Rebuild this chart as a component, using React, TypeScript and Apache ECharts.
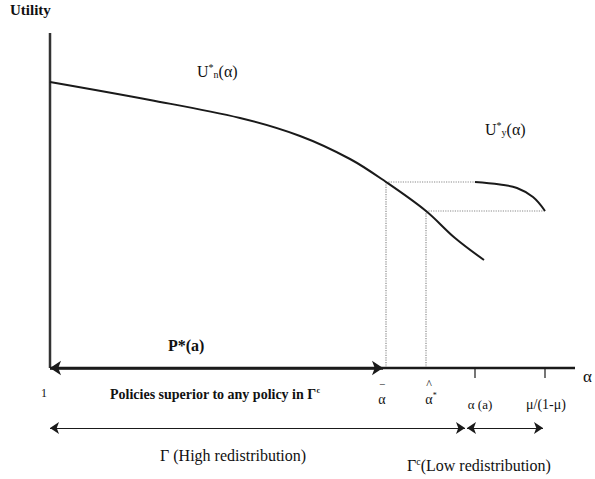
import React, { useEffect, useRef } from "react";
import * as echarts from "echarts";

// Curve U*n(α): [alpha position, utility]
const unCurve: [number, number][] = [
  [0, 57.2], [20, 53.6], [38, 50.0], [50, 46.4], [60, 41.8], [67.2, 37.2], [75.2, 31.4], [81, 26.0], [86.8, 21.6],
];
// Curve U*y(α)
const uyCurve: [number, number][] = [
  [85, 37.2], [90, 36.7], [93.4, 36.0], [96.6, 34.2], [99, 31.4],
];
// Key alpha positions
const alphaBar = 67.2;
const alphaHat = 75.2;
const alphaA = 85;
const muRatio = 99;
const levelBar = 37.2;
const levelHat = 31.4;
const axisEnd = 105;
const yTop = 67;
const rowY = -12;
const pArrowEnd = 66.6;
const highEnd = 83;
const lowStart = 83.4;
const lowEnd = 98.6;

const FONT = "'Liberation Serif', 'DejaVu Serif', serif";

export default function App() {
  const ref = useRef<HTMLDivElement>(null);
  useEffect(() => {
    if (!ref.current) return;
    const chart = echarts.init(ref.current, undefined, { renderer: "svg" });
    const dark = "#1a1a1a";
    const dotted = { color: "#8a8a8a", width: 1.2, type: "dotted" as const };
    const lineSeg = (pts: [number, number][], style: any, z = 2) => ({
      type: "line",
      data: pts,
      symbol: "none",
      silent: true,
      z,
      lineStyle: style,
    });
    const arrow = (from: [number, number], to: [number, number], sym: [string, string], width: number, size: number) => ({
      type: "lines",
      coordinateSystem: "cartesian2d",
      silent: true,
      z: 4,
      symbol: sym,
      symbolSize: size,
      lineStyle: { color: dark, width, opacity: 1 },
      data: [{ coords: [from, to] }],
    });
    const txt = (x: number, y: number, text: string, size: number, bold = false, align = "left", rich?: any) => ({
      type: "text",
      x,
      y,
      style: {
        text,
        fill: "#111",
        font: `${bold ? "bold " : ""}${size}px ${FONT}`,
        textAlign: align,
        textVerticalAlign: "middle",
        rich,
      },
    });
    const richBase = (size: number, bold = false) => ({
      sup: { fontFamily: FONT, fontSize: Math.round(size * 0.6), fontWeight: bold ? "bold" : "normal", color: "#111", verticalAlign: "top", padding: [0, 0, 7, 0] },
      sub: { fontFamily: FONT, fontSize: Math.round(size * 0.6), color: "#111", padding: [7, 0, 0, 0] },
    });
    chart.setOption({
      animation: false,
      grid: { left: 50, top: 33, width: 525, height: 445 },
      xAxis: { type: "value", min: 0, max: axisEnd, show: false },
      yAxis: { type: "value", min: -22, max: yTop, show: false },
      series: [
        // axes
        lineSeg([[0, 0], [0, yTop]], { color: "#333", width: 2.5 }, 3),
        lineSeg([[0, 0], [axisEnd, 0]], { color: dark, width: 2.5 }, 3),
        // ticks
        lineSeg([[alphaA, 0], [alphaA, -2]], { color: dark, width: 1.2 }, 3),
        lineSeg([[muRatio, 0], [muRatio, -2]], { color: dark, width: 1.2 }, 3),
        // dotted guides
        lineSeg([[alphaBar, 0], [alphaBar, levelBar]], dotted, 1),
        lineSeg([[alphaHat, 0], [alphaHat, levelHat]], dotted, 1),
        lineSeg([[alphaBar, levelBar], [alphaA, levelBar]], dotted, 1),
        lineSeg([[alphaHat, levelHat], [muRatio, levelHat]], dotted, 1),
        // curves
        { type: "line", data: unCurve, smooth: 0.35, symbol: "none", silent: true, z: 3, lineStyle: { color: dark, width: 2 } },
        { type: "line", data: uyCurve, smooth: 0.4, symbol: "none", silent: true, z: 3, lineStyle: { color: dark, width: 2 } },
        // arrows
        arrow([0, 0], [pArrowEnd, 0], ["arrow", "arrow"], 2.5, 11),
        arrow([0, rowY], [highEnd, rowY], ["arrow", "arrow"], 1.2, 9),
        arrow([lowStart, rowY], [lowEnd, rowY], ["arrow", "arrow"], 1.2, 9),
      ],
      graphic: [
        txt(10, 10, "Utility", 15, true),
        txt(197, 71, "U{sup|*}{sub|n}(α)", 16, false, "left", richBase(16)),
        txt(485, 129, "U{sup|*}{sub|y}(α)", 16, false, "left", richBase(16)),
        txt(168, 345, "P*(a)", 16, true),
        txt(41, 393, "1", 12),
        txt(110, 394, "Policies superior to any policy in Γ{sup|c}", 14, true, "left", richBase(14, true)),
        txt(382, 384, "−", 11, false, "center"),
        txt(382, 399, "α", 14, false, "center"),
        txt(429, 384, "^", 12, false, "center"),
        txt(431, 399, "α{sup|*}", 14, false, "center", richBase(14)),
        txt(480, 404, "α (a)", 13, false, "center"),
        txt(546, 404, "μ/(1-μ)", 14, false, "center"),
        txt(583, 376, "α", 17),
        txt(160, 455, "Γ (High redistribution)", 16),
        txt(407, 465, "Γ{sup|c}(Low redistribution)", 16, false, "left", richBase(16)),
      ],
    });
    return () => chart.dispose();
  }, []);
  return <div ref={ref} style={{ width: 595, height: 479, position: "absolute", left: 0, top: 0 }} />;
}
